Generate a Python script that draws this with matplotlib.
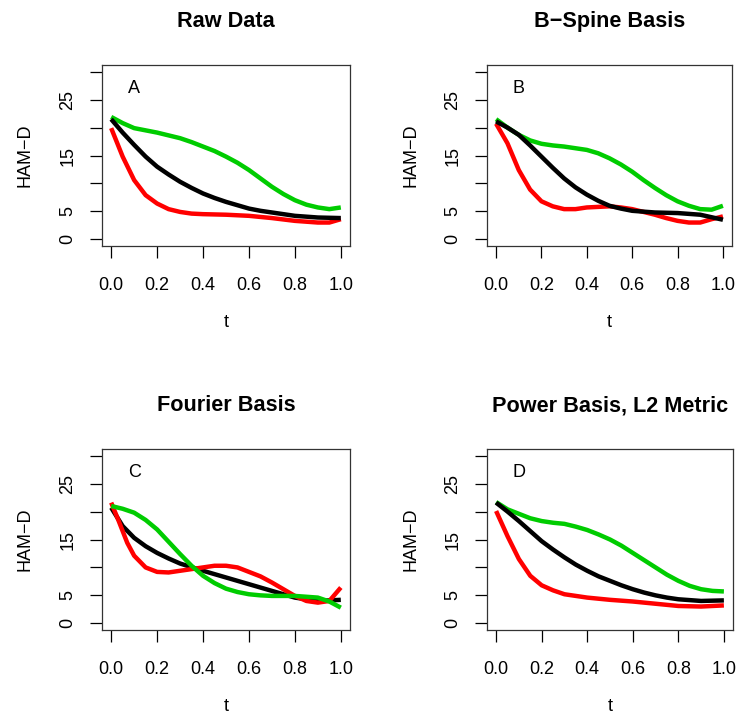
import matplotlib
matplotlib.use("Agg")
import matplotlib.pyplot as plt

plt.rcParams['font.family'] = ['Liberation Sans', 'DejaVu Sans']

# panel titles and corner letters
titles = ["Raw Data", "B\u2212Spine Basis", "Fourier Basis", "Power Basis, L2 Metric"]
letters = ["A", "B", "C", "D"]

y_ticks = [0, 5, 10, 15, 20, 25, 30]
y_tick_labels = ["0", "5", "", "15", "", "25", ""]
x_ticks = [0.0, 0.2, 0.4, 0.6, 0.8, 1.0]
x_tick_labels = ["0.0", "0.2", "0.4", "0.6", "0.8", "1.0"]

# --- A: raw data
a_t_black = [0, .05, .1, .15, .2, .25, .3, .35, .4, .45, .5, .55, .6, .65, .7, .75, .8, .9, 1.0]
a_black = [21.5, 19.1, 16.9, 14.8, 13.0, 11.6, 10.3, 9.2, 8.2, 7.4, 6.7, 6.1, 5.5, 5.1, 4.8, 4.5,
           4.2, 3.9, 3.8]
a_t_green = [0, .05, .1, .15, .2, .25, .3, .35, .4, .45, .5, .55, .6, .65, .7, .75, .8, .85,
             .9, .95, 1.0]
a_green = [21.9, 20.8, 19.9, 19.5, 19.1, 18.6, 18.1, 17.4, 16.6, 15.8, 14.8, 13.7, 12.4, 10.9,
           9.4, 8.1, 7.0, 6.2, 5.7, 5.4, 5.7]
a_t_red = [0, .05, .1, .15, .2, .25, .3, .35, .4, .5, .6, .7, .8, .9, .95, 1.0]
a_red = [19.9, 14.8, 10.6, 7.9, 6.4, 5.4, 4.9, 4.6, 4.5, 4.4, 4.2, 3.8, 3.3, 3.0, 3.0, 3.6]

# --- B: b-spline basis
b_t_black = [0, .05, .1, .15, .2, .25, .3, .35, .4, .45, .5, .55, .6, .7, .8, .9, 1.0]
b_black = [21.1, 20.0, 18.7, 16.8, 14.8, 12.8, 10.9, 9.3, 8.0, 6.9, 6.0, 5.5, 5.1, 4.8, 4.7,
           4.4, 3.5]
b_t_green = [0, .05, .1, .15, .2, .25, .3, .35, .4, .45, .5, .55, .6, .65, .7, .75, .8, .85,
             .9, .95, 1.0]
b_green = [21.5, 20.0, 18.7, 17.7, 17.1, 16.8, 16.6, 16.3, 16.0, 15.4, 14.5, 13.4, 12.1, 10.6,
           9.2, 7.9, 6.8, 6.0, 5.4, 5.3, 6.0]
b_t_red = [0, .05, .1, .15, .2, .25, .3, .35, .4, .45, .5, .55, .6, .65, .7, .75, .8, .85, .9,
           .95, 1.0]
b_red = [20.7, 17.2, 12.4, 8.9, 6.8, 5.9, 5.4, 5.4, 5.7, 5.8, 5.9, 5.7, 5.4, 4.9, 4.4, 3.8,
         3.3, 3.0, 3.0, 3.6, 4.1]

# --- C: fourier basis
c_t_black = [0, .05, .1, .15, .2, .25, .3, .4, .5, .6, .7, .8, .9, 1.0]
c_black = [20.7, 17.4, 15.3, 13.8, 12.6, 11.6, 10.7, 9.4, 8.2, 7.0, 5.8, 4.6, 4.0, 4.2]
c_t_green = [0, .05, .1, .15, .2, .25, .3, .35, .4, .45, .5, .55, .6, .65, .7, .8, .9, .95, 1.0]
c_green = [21.0, 20.5, 19.8, 18.5, 16.8, 14.6, 12.4, 10.3, 8.5, 7.2, 6.2, 5.6, 5.2, 5.0, 4.9,
           4.9, 4.6, 3.9, 2.8]
c_t_red = [0, .03, .07, .1, .15, .2, .25, .3, .35, .4, .45, .5, .55, .6, .65, .7, .75, .8, .85,
           .9, .95, 1.0]
c_red = [21.6, 18.6, 14.4, 12.1, 10.0, 9.2, 9.1, 9.4, 9.7, 10.0, 10.3, 10.3, 10.0, 9.2, 8.4,
         7.3, 6.1, 4.9, 4.0, 3.7, 4.0, 6.4]

# --- D: power basis, L2 metric
d_t_black = [0, .05, .1, .15, .2, .25, .3, .35, .4, .45, .5, .55, .6, .65, .7, .75, .8, .9, 1.0]
d_black = [21.6, 20.0, 18.3, 16.5, 14.7, 13.2, 11.8, 10.5, 9.4, 8.4, 7.6, 6.8, 6.1, 5.5, 5.0,
           4.6, 4.3, 4.0, 4.1]
d_t_green = [0, .05, .1, .15, .2, .25, .3, .35, .4, .45, .5, .55, .6, .65, .7, .75, .8, .85,
             .9, .95, 1.0]
d_green = [21.7, 20.4, 19.6, 18.8, 18.3, 18.0, 17.8, 17.3, 16.7, 15.9, 15.0, 13.9, 12.6, 11.3,
           10.0, 8.7, 7.6, 6.7, 6.1, 5.8, 5.7]
d_t_red = [0, .05, .1, .15, .2, .25, .3, .35, .4, .5, .6, .7, .8, .9, 1.0]
d_red = [20.1, 15.6, 11.5, 8.5, 6.8, 5.9, 5.2, 4.9, 4.6, 4.2, 3.9, 3.5, 3.1, 3.0, 3.2]

panels = [
    [(a_t_red, a_red, "#FF0000"), (a_t_green, a_green, "#00CC00"), (a_t_black, a_black, "black")],
    [(b_t_red, b_red, "#FF0000"), (b_t_green, b_green, "#00CC00"), (b_t_black, b_black, "black")],
    [(c_t_black, c_black, "black"), (c_t_red, c_red, "#FF0000"), (c_t_green, c_green, "#00CC00")],
    [(d_t_red, d_red, "#FF0000"), (d_t_green, d_green, "#00CC00"), (d_t_black, d_black, "black")],
]

W, H = 741, 720
boxes = [(102, 65, 350, 246), (487, 65, 732, 246),
         (102, 449, 350, 630), (487, 449, 733, 630)]

fig = plt.figure(figsize=(W / 100, H / 100), dpi=100)

for i, (x0, y0, x1, y1) in enumerate(boxes):
    ax = fig.add_axes([x0 / W, 1 - y1 / H, (x1 - x0) / W, (y1 - y0) / H])
    for t, v, col in panels[i]:
        ax.plot(t, v, color=col, lw=3.2, solid_capstyle='butt', solid_joinstyle='round')
    ax.set_xlim(-0.04, 1.04)
    ax.set_ylim(-1.2, 31.2)
    ax.set_xticks(x_ticks)
    ax.set_xticklabels(x_tick_labels)
    ax.set_yticks(y_ticks)
    ax.set_yticklabels(y_tick_labels, rotation=90, va='center')
    ax.tick_params(direction='out', length=8.6, width=0.9, labelsize=13, pad=7)
    ax.tick_params(axis='x', pad=14)
    ax.tick_params(axis='y', pad=10)
    for s in ax.spines.values():
        s.set_linewidth(0.9)
        s.set_color('#333333')
    ax.text(0.1, 27, letters[i], fontsize=13, ha='center', va='center')
    ax.text(0.5, 1.24, titles[i], transform=ax.transAxes, ha='center', va='center',
            fontsize=15.6, fontweight='bold')
    ax.text(-0.31, 0.5, "HAM\u2212D", transform=ax.transAxes, rotation=90,
            ha='center', va='center', fontsize=13)
    ax.text(0.5, -0.425, "t", transform=ax.transAxes, ha='center', va='center', fontsize=13)

fig.savefig("out.png", dpi=100)
